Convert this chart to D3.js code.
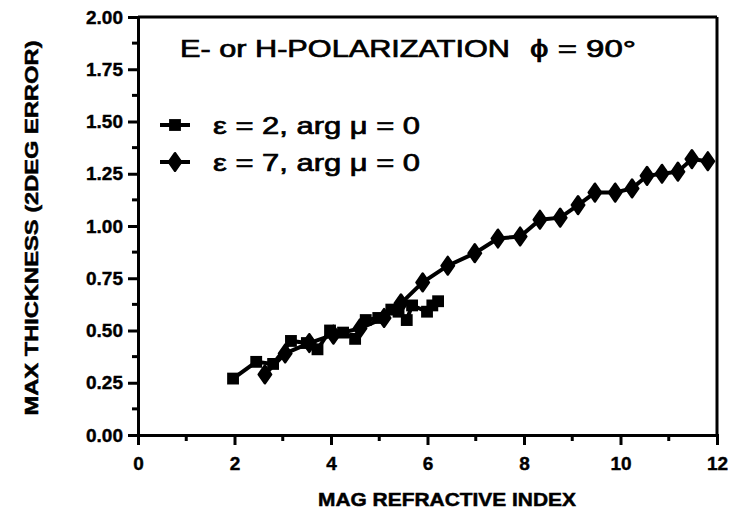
<!DOCTYPE html>
<html><head><meta charset="utf-8">
<script src="https://cdn.jsdelivr.net/npm/d3@7"></script>
<style>body{margin:0;background:#fff}svg{display:block}</style>
</head><body>
<script>
const eps2X = [1.97, 2.45, 2.8, 3.17, 3.5, 3.72, 3.98, 4.25, 4.5, 4.72, 4.98, 5.25, 5.4, 5.57, 5.68, 5.99, 6.1, 6.22];
const eps2Y = [0.27, 0.35, 0.34, 0.45, 0.44, 0.41, 0.50, 0.49, 0.46, 0.55, 0.56, 0.60, 0.59, 0.55, 0.62, 0.59, 0.62, 0.64];
const eps7X = [2.63, 3.05, 3.55, 4.05, 4.6, 5.1, 5.45, 5.9, 6.42, 6.98, 7.46, 7.92, 8.33, 8.75, 9.12, 9.47, 9.89, 10.24, 10.55, 10.86, 11.19, 11.48, 11.81];
const eps7Y = [0.29, 0.39, 0.44, 0.48, 0.51, 0.56, 0.63, 0.73, 0.81, 0.87, 0.94, 0.95, 1.03, 1.04, 1.10, 1.16, 1.16, 1.18, 1.24, 1.25, 1.26, 1.32, 1.31];
const xTicks = [0, 2, 4, 6, 8, 10, 12];
const yTicks = [0, 0.25, 0.5, 0.75, 1.0, 1.25, 1.5, 1.75, 2.0];
const seriesNames = ["\u03b5 = 2, arg \u03bc = 0", "\u03b5 = 7, arg \u03bc = 0"];
const titleText = "E- or H-POLARIZATION";
const phiText = "\u03d5 = 90\u00b0";
const xLabel = "MAG REFRACTIVE INDEX";
const yLabel = "MAX THICKNESS (2DEG ERROR)";

const W = 740, H = 519;
const svg = d3.select("body").append("svg").attr("width", W).attr("height", H);
const x = d3.scaleLinear().domain([0, 12]).range([138, 717]);
const y = d3.scaleLinear().domain([0, 2]).range([435, 17]);
const font = "'Liberation Sans', Arial, sans-serif";

// frame top and right
svg.append("line").attr("x1", x(0)).attr("x2", x(12)).attr("y1", y(2)).attr("y2", y(2)).attr("stroke", "#000").attr("stroke-width", 3);
svg.append("line").attr("x1", x(12)).attr("x2", x(12)).attr("y1", y(2)).attr("y2", y(0)).attr("stroke", "#000").attr("stroke-width", 3);

// axes
const xAxis = d3.axisBottom(x).tickValues(xTicks).tickFormat(d3.format("d")).tickSize(10).tickPadding(12);
const gx = svg.append("g").attr("transform", `translate(0,${y(0)})`).call(xAxis);
const yAxis = d3.axisLeft(y).tickValues(yTicks).tickFormat(d3.format(".2f")).tickSize(10).tickPadding(5);
const gy = svg.append("g").attr("transform", `translate(${x(0)},0)`).call(yAxis);
[gx, gy].forEach(g => {
  g.select(".domain").attr("stroke-width", 3);
  g.selectAll(".tick line").attr("stroke-width", 3);
  g.selectAll("text").attr("font-family", font).attr("font-weight", "bold").attr("font-size", 19).attr("fill", "#000")
    .attr("stroke", "#000").attr("stroke-width", 0.4);
});
// minor ticks
const xMinor = d3.range(1, 12, 2);
svg.append("g").selectAll("line").data(xMinor).join("line")
  .attr("x1", d => x(d)).attr("x2", d => x(d)).attr("y1", y(0)).attr("y2", y(0) + 6)
  .attr("stroke", "#000").attr("stroke-width", 3);
const yMinor = d3.range(0.125, 2, 0.25);
svg.append("g").selectAll("line").data(yMinor).join("line")
  .attr("x1", x(0) - 6).attr("x2", x(0)).attr("y1", d => y(d)).attr("y2", d => y(d))
  .attr("stroke", "#000").attr("stroke-width", 3);

// axis labels
svg.append("text").attr("x", 447).attr("y", 506).attr("text-anchor", "middle")
  .attr("font-family", font).attr("font-weight", "bold").attr("font-size", 19)
  .attr("stroke", "#000").attr("stroke-width", 0.5)
  .attr("textLength", 258).attr("lengthAdjust", "spacingAndGlyphs").text(xLabel);
svg.append("text").attr("transform", "translate(38,228) rotate(-90)").attr("text-anchor", "middle")
  .attr("font-family", font).attr("font-weight", "bold").attr("font-size", 19)
  .attr("stroke", "#000").attr("stroke-width", 0.5)
  .attr("textLength", 375).attr("lengthAdjust", "spacingAndGlyphs").text(yLabel);

// title
svg.append("text").attr("x", 180).attr("y", 57).attr("font-family", font).attr("font-size", 24)
  .attr("stroke", "#000").attr("stroke-width", 0.7)
  .attr("textLength", 330).attr("lengthAdjust", "spacingAndGlyphs").text(titleText);
svg.append("text").attr("x", 530).attr("y", 57).attr("font-family", font).attr("font-size", 24)
  .attr("stroke", "#000").attr("stroke-width", 0.7)
  .attr("textLength", 106).attr("lengthAdjust", "spacingAndGlyphs").text(phiText);

// lines
const line = d3.line().x(d => x(d[0])).y(d => y(d[1]));
const d2 = eps2X.map((v, i) => [v, eps2Y[i]]);
const d7 = eps7X.map((v, i) => [v, eps7Y[i]]);
svg.append("path").datum(d2).attr("d", line).attr("fill", "none").attr("stroke", "#000").attr("stroke-width", 4);
svg.append("path").datum(d7).attr("d", line).attr("fill", "none").attr("stroke", "#000").attr("stroke-width", 4);
const sq = d3.symbol().type(d3.symbolSquare).size(140);
const dm = d3.symbol().type(d3.symbolDiamond).size(95);
svg.append("g").selectAll("path").data(d2).join("path").attr("d", sq)
  .attr("transform", d => `translate(${x(d[0])},${y(d[1])})`).attr("fill", "#000");
svg.append("g").selectAll("path").data(d7).join("path").attr("d", dm)
  .attr("transform", d => `translate(${x(d[0])},${y(d[1])}) scale(1.2,1)`).attr("fill", "#000")
  .attr("stroke", "#000").attr("stroke-width", 2).attr("stroke-linejoin", "round");

// legend
const legY = [125, 162];
legY.forEach((ly, i) => {
  svg.append("line").attr("x1", 160).attr("x2", 190).attr("y1", ly).attr("y2", ly).attr("stroke", "#000").attr("stroke-width", 4);
  svg.append("path").attr("d", i === 0 ? sq : dm)
    .attr("transform", `translate(175,${ly}) scale(${i === 0 ? 1 : 1.2},1)`).attr("fill", "#000")
    .attr("stroke", "#000").attr("stroke-width", i === 0 ? 0 : 2).attr("stroke-linejoin", "round");
  svg.append("text").attr("x", 213).attr("y", ly + 9).attr("font-family", font).attr("font-size", 24)
    .attr("stroke", "#000").attr("stroke-width", 0.7)
    .attr("textLength", 207).attr("lengthAdjust", "spacingAndGlyphs").text(seriesNames[i]);
});
</script>
</body></html>
